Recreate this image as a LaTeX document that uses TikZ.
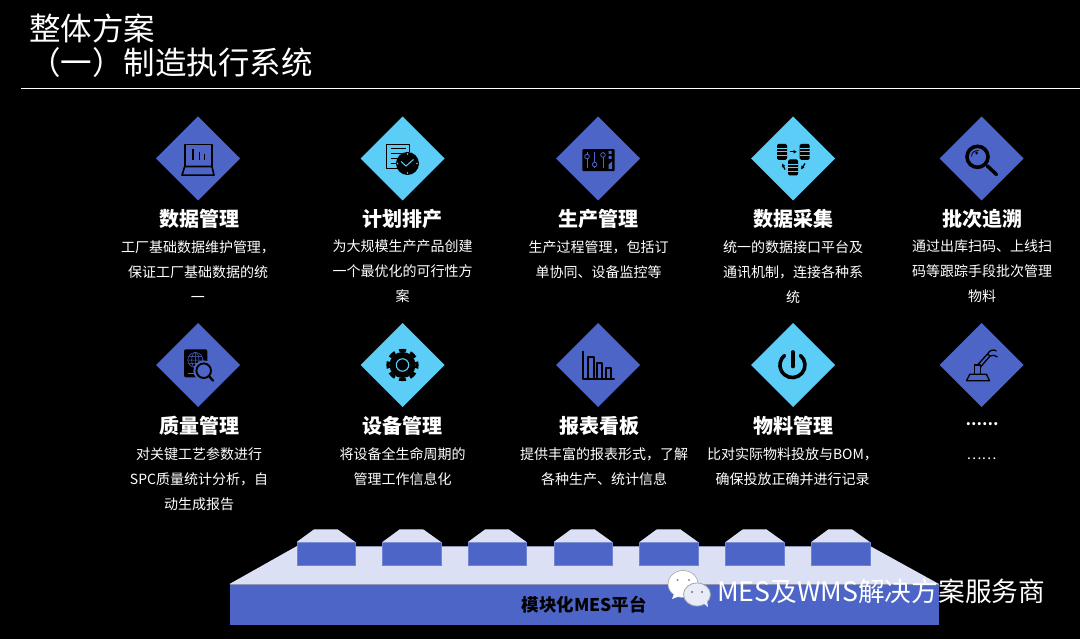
\documentclass[tikz,border=0pt]{standalone}
\usepackage{fontspec}
\usepackage{xcolor}
\setmainfont{Noto Sans CJK SC}
\usetikzlibrary{arrows.meta, positioning, shapes.geometric, calc}
\definecolor{KiteBlue}{HTML}{4E65C8}
\definecolor{KiteCyan}{HTML}{5BCDF6}
\definecolor{DeckPale}{HTML}{DCE0F4}
\definecolor{DeckEdge}{HTML}{8F97B5}
\definecolor{ChatPale}{HTML}{E8EBF8}
\newcommand{\dbstack}[1]{\begin{scope}[shift={#1}]
  \fill[black, rounded corners=1.5] (-5,-8) rectangle (5,8);
  \draw[KiteCyan, line width=.6] (-5,-3.4) -- (5,-3.4) (-5,0) -- (5,0) (-5,3.4) -- (5,3.4);
\end{scope}}
\newcommand{\capblock}[1]{\fill[DeckPale] (#1.north west) -- ++(17,-12.5) -- ++(24,0) -- (#1.north east) -- cycle;
  \draw[DeckEdge, line width=.5] (#1.north west) ++(17,-12.5) -- ++(24,0);}
\begin{document}
\begin{tikzpicture}[
  x=1pt, y=-1pt,
  kite/.style={diamond, minimum width=84pt, minimum height=84pt, inner sep=0pt, outer sep=0pt},
  bluekite/.style={kite, fill=KiteBlue},
  cyankite/.style={kite, fill=KiteCyan},
  pagetitle/.style={anchor=west, inner sep=0pt, text=white, font=\fontsize{31.5}{36}\selectfont},
  modhead/.style={inner sep=0pt, text=white, font=\fontsize{20}{24}\selectfont\bfseries},
  modtext/.style={anchor=north, inner sep=0pt, align=center, text=white, font=\fontsize{14}{25}\selectfont},
  modblock/.style={minimum width=58.5pt, minimum height=23pt, inner sep=0pt, outer sep=0pt, fill=KiteBlue, draw=KiteBlue!80!white, line width=.4pt},
  iconline/.style={draw=black, line width=1.6pt, line join=round}
]
\path[use as bounding box, fill=black] (0,0) rectangle (1080,639);

\node[pagetitle] (titletop) at (29,28) {整体方案};
\node[pagetitle] (titlesub) at (29,63) {（一）制造执行系统};
\draw[white, line width=.8pt] (21,88) -- (1080,88);

% first row
\node[bluekite] (kitedata) at (198,158.5) {};
\node[cyankite] (kiteplan) at (402.5,158.5) {};
\node[bluekite] (kiteprod) at (598,158.5) {};
\node[cyankite] (kitecollect) at (793,158.5) {};
\node[bluekite] (kitetrace) at (981.5,158.5) {};

\node[modhead] (headdata) at (199,219) {数据管理};
\node[modhead] (headplan) at (402.5,219) {计划排产};
\node[modhead] (headprod) at (598.5,219) {生产管理};
\node[modhead] (headcollect) at (793,219) {数据采集};
\node[modhead] (headtrace) at (982,219) {批次追溯};

\node[modtext] (textdata) at (198,240) {工厂基础数据维护管理，\\保证工厂基础数据的统\\一};
\node[modtext] (textplan) at (402.5,240) {为大规模生产产品创建\\一个最优化的可行性方\\案};
\node[modtext] (textprod) at (598.5,240) {生产过程管理，包括订\\单协同、设备监控等};
\node[modtext] (textcollect) at (793,240) {统一的数据接口平台及\\通讯机制，连接各种系\\统};
\node[modtext] (texttrace) at (982,240) {通过出库扫码、上线扫\\码等跟踪手段批次管理\\物料};

% second row
\node[bluekite] (kitequality) at (198,365) {};
\node[cyankite] (kitedevice) at (402.5,365) {};
\node[bluekite] (kitereport) at (598,365) {};
\node[cyankite] (kitematerial) at (793,365) {};
\node[bluekite] (kitemore) at (981.5,365) {};

\node[modhead] (headquality) at (199,426) {质量管理};
\node[modhead] (headdevice) at (402.5,426) {设备管理};
\node[modhead] (headreport) at (599,426) {报表看板};
\node[modhead] (headmaterial) at (793,426) {物料管理};
\node[modhead, font=\fontsize{14.5}{18}\selectfont\bfseries] (headmore) at (982,424) {……};

\node[modtext] (textquality) at (199,447) {对关键工艺参数进行\\SPC质量统计分析，自\\动生成报告};
\node[modtext] (textdevice) at (402.5,447) {将设备全生命周期的\\管理工作信息化};
\node[modtext] (textreport) at (604,447) {提供丰富的报表形式，了解\\各种生产、统计信息};
\node[modtext] (textmaterial) at (792.5,447) {比对实际物料投放与BOM，\\确保投放正确并进行记录};
\node[modtext] (textmore) at (981.5,458) {……};

% icons
\begin{scope}[shift={(kitedata.center)}]
  \draw[iconline] (-13.3,8) -- (-13.3,-14) -- (14,-14) -- (14,8);
  \draw[iconline] (-13.3,8) -- (14,8) -- (16,16.7) -- (-16,16.7) -- cycle;
  \draw[iconline, line width=1.9pt] (-5,-9) -- (-5,2) (1.5,-6) -- (1.5,2) (6.5,-4) -- (6.5,2);
\end{scope}
\begin{scope}[shift={(kiteplan.center)}]
  \draw[iconline, line width=1.1pt] (7,-14) -- (-16,-14) -- (-16,10) -- (-5,10) (7,-14) -- (7,-6);
  \draw[iconline, line width=1.1pt] (-12,-10) -- (3,-10) (-12,-5) -- (3,-5) (-12,0) -- (-5,0) (-12,5) -- (-7,5);
  \fill[black] (5,5) circle (11.5);
  \draw[KiteCyan, line width=1pt] (-1.5,3) -- (3.5,7.5) -- (11,1);
  \fill[KiteCyan] (5,-4.5) circle (.8) (5,14.5) circle (.8) (-5,5) circle (.8) (14.5,5) circle (.8);
\end{scope}
\begin{scope}[shift={(kiteprod.center)}]
  \fill[black, rounded corners=1] (-15.7,-9.3) rectangle (16.7,12.7);
  \draw[KiteBlue, line width=.8pt] (-11,-6) -- (-11,10) (-3.3,-6) -- (-3.3,10) (5,-6) -- (5,10);
  \draw[KiteBlue, line width=.8pt, fill=black] (-11,-2) circle (2.3) (-3.3,6) circle (2.3) (5,-3.5) circle (2.3);
  \fill[KiteBlue] (10.5,-7.5) rectangle (13.5,-4.5) (10.5,-2.5) rectangle (13.5,.5) (10.5,10.5) -- (10.5,6) -- (14,3) -- (14,10.5) -- cycle;
\end{scope}
\begin{scope}[shift={(kitecollect.center)}]
  \dbstack{(-11,-6.7)}
  \dbstack{(11.7,-6.7)}
  \dbstack{(0,9)}
  \draw[-{Latex[length=3.5pt, width=4pt]}, line width=1.3pt] (-3.5,-6.7) -- (4,-6.7);
  \draw[-{Latex[length=3.5pt, width=4pt]}, line width=1.3pt] (-8,11) -- (-11,5);
  \draw[-{Latex[length=3.5pt, width=4pt]}, line width=1.3pt] (12,5) -- (8,11);
\end{scope}
\begin{scope}[shift={(kitetrace.center)}]
  \draw[black, line width=3.6pt] (-4,-1.7) circle (10.5);
  \draw[black, line width=.8pt] (-10,-2) .. controls (-10,-6) and (-7,-8) .. (-3,-8);
  \fill[black] (-5,-5.5) circle (1.5);
  \draw[black, line width=3.5pt, line cap=round] (5.7,7.3) -- (15,16);
\end{scope}
\begin{scope}[shift={(kitequality.center)}]
  \fill[black, rounded corners=2] (-14,-15.7) rectangle (9.3,12.3);
  \draw[KiteBlue, line width=.5pt] (-2.7,-5) circle (7.5) (-10.2,-5) -- (4.8,-5) (-2.7,-12.5) -- (-2.7,2.5) (-9,-8.5) -- (3.6,-8.5) (-9,-1.5) -- (3.6,-1.5);
  \draw[KiteBlue, line width=.5pt] (-2.7,-5) ellipse (3.6 and 7.5);
  \fill[KiteBlue] (-10,7.5) rectangle (-3,9);
  \draw[KiteBlue, line width=1.8pt, fill=KiteBlue] (5.7,5.7) circle (9.4);
  \draw[black, line width=1.9pt, fill=KiteBlue] (5.7,5.7) circle (7.3);
  \draw[black, line width=2.2pt, line cap=round] (11,11) -- (15,15.7);
\end{scope}
\begin{scope}[shift={(kitedevice.center)}]
  \fill[black] (0,0) circle (13);
  \draw[black, line width=3.2pt, dash pattern=on 6.8pt off 4.59pt, dash phase=3.4pt] (0,0) circle (14.5);
  \draw[KiteCyan, line width=1.1pt] (0,0) circle (6.2);
\end{scope}
\begin{scope}[shift={(kitereport.center)}]
  \draw[iconline, line width=2pt, line cap=round] (-15,-13.3) -- (-15,14) -- (16,14);
  \draw[iconline, line width=2pt] (-10,14) -- (-10,-8.3) -- (-4.5,-8.3) -- (-4.5,14);
  \draw[iconline, line width=2pt] (-1,14) -- (-1,-2.3) -- (4.3,-2.3) -- (4.3,14);
  \draw[iconline, line width=2pt] (7.7,14) -- (7.7,2.7) -- (13.3,2.7) -- (13.3,14);
\end{scope}
\begin{scope}[shift={(kitematerial.center)}]
  \draw[black, line width=3.6pt, line cap=round] (7.5,-9.5) arc[start angle=-50, end angle=230, radius=12.5];
  \draw[black, line width=3.6pt, line cap=round] (0,-13) -- (0,1.5);
\end{scope}
\begin{scope}[shift={(kitemore.center)}]
  \draw[iconline, line width=1.3pt] (-15,15.7) -- (8,15.7) -- (5,9.3) -- (-11.7,9.3) -- cycle;
  \draw[iconline, line width=1.3pt] (-7.3,0) rectangle (-1,9.3);
  \draw[iconline, line width=1.3pt] (-4,0) -- (6,-11) -- (8.5,-9) -- (-1,2);
  \draw[iconline, line width=1.3pt] (6,-11) .. controls (8,-15) and (12,-16) .. (15,-14);
  \draw[iconline, line width=1.3pt] (8.5,-9) .. controls (11,-10) and (14,-10) .. (16,-8);
\end{scope}

% platform
\fill[DeckPale] (229.5,584) -- (297,546) -- (870,546) -- (939,584) -- cycle;
\draw[DeckEdge, line width=.5pt] (297,546) -- (870,546);
\node[modblock] (blocka) at (326,553.5) {};
\node[modblock] (blockb) at (411.7,553.5) {};
\node[modblock] (blockc) at (497.2,553.5) {};
\node[modblock] (blockd) at (583,553.5) {};
\node[modblock] (blocke) at (668.8,553.5) {};
\node[modblock] (blockf) at (754.8,553.5) {};
\node[modblock] (blockg) at (840.5,553.5) {};
\capblock{blocka}
\capblock{blockb}
\capblock{blockc}
\capblock{blockd}
\capblock{blocke}
\capblock{blockf}
\capblock{blockg}
\node[fill=KiteBlue, minimum width=709.5pt, minimum height=41pt, inner sep=0pt, outer sep=0pt, text=black, font=\fontsize{17.5}{20}\selectfont\bfseries] (deckfront) at (584.25,604.5) {模块化MES平台};
\draw[DeckEdge, line width=.6pt] (deckfront.north west) -- (deckfront.north east);

% watermark
\draw[black!35, line width=.6pt, fill=white] (683,584) ellipse (15 and 13.5);
\fill[white] (674,594) -- (672,599) -- (680,596) -- cycle;
\fill[black!45] (677.5,580) circle (1.2) (689,580) circle (1.2);
\draw[black!35, line width=.8pt, fill=ChatPale] (697,594.5) ellipse (13.5 and 11.5);
\fill[ChatPale] (703,603) -- (708,607) -- (707,600) -- cycle;
\fill[black!55] (692,592) circle (1.2) (702,592) circle (1.2);
\node[anchor=west, inner sep=0pt, text=white, font=\fontsize{26.7}{30}\selectfont] (markname) at (717,591) {MES及WMS解决方案服务商};
\end{tikzpicture}
\end{document}
